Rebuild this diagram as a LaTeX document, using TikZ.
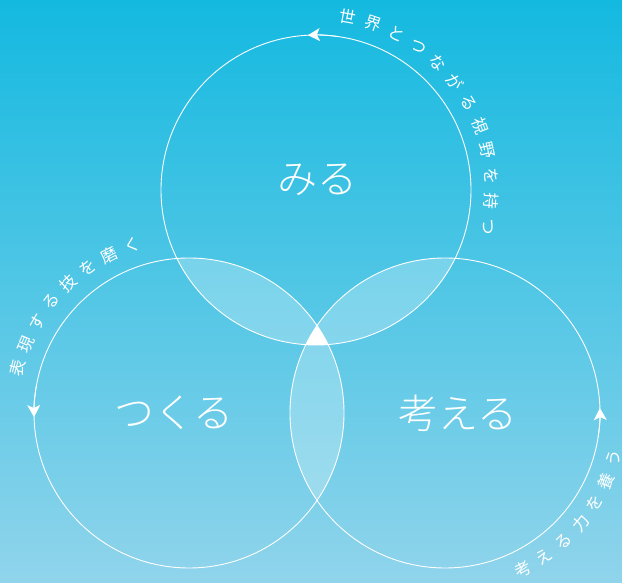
\documentclass[tikz,border=0pt]{standalone}
\usepackage{fontspec}
\IfFontExistsTF{Noto Sans CJK JP Light}
  {\newfontfamily\jp{Noto Sans CJK JP Light}}
  {\newfontfamily\jp{Noto Sans CJK JP}}
\newfontfamily\jpr{Noto Sans CJK JP}
\usetikzlibrary{arrows.meta,calc}
\definecolor{bgtop}{HTML}{14B9E0}
\definecolor{bgbot}{HTML}{90D4EB}
\begin{document}
\begin{tikzpicture}[x=1pt,y=1pt,
  ring/.style={circle, draw=white, line width=0.9pt, minimum size=310pt, inner sep=0pt},
  lens/.style={fill=white, fill opacity=0.25},
  arctip/.style={white, line width=0.9pt, -{Stealth[length=12pt,width=13pt,inset=3pt]}},
  arcchar/.style={text=white, font=\jpr\fontsize{16.5}{16.5}\selectfont, inner sep=0pt},
  mainlabel/.style={text=white, font=\jp\fontsize{40}{40}\selectfont, inner sep=0pt}]
\shade[top color=bgtop, bottom color=bgbot] (0,0) rectangle (622,583);
\useasboundingbox (0,0) rectangle (622,583);
\def\R{155}
\coordinate (cT) at (316,393);
\coordinate (cL) at (189,170);
\coordinate (cR) at (445,170);
% pairwise overlaps
\begin{scope}\clip (cT) circle (\R); \fill[lens] (cL) circle (\R);\end{scope}
\begin{scope}\clip (cT) circle (\R); \fill[lens] (cR) circle (\R);\end{scope}
\begin{scope}\clip (cL) circle (\R); \fill[lens] (cR) circle (\R);\end{scope}
% triple overlap
\begin{scope}\clip (cT) circle (\R); \clip (cL) circle (\R); \fill[white] (cR) circle (\R);\end{scope}
% rings
\node[ring] (mi) at (cT) {};
\node[ring] (tsu) at (cL) {};
\node[ring] (kan) at (cR) {};
% arrow heads on the rings
\draw[arctip] (cT) ++(82:\R) arc[start angle=82, end angle=93, radius=\R];
\draw[arctip] (cL) ++(170:\R) arc[start angle=170, end angle=181.5, radius=\R];
\draw[arctip] (cR) ++(-9:\R) arc[start angle=-9, end angle=1.8, radius=\R];
% main labels
\node[mainlabel] (lmi) at (317,403) {みる};
\node[mainlabel] (ltsu) at (174,170) {つくる};
\node[mainlabel] (lkan) at (458,170) {考える};
% arc texts
\foreach \ch [count=\i from 0] in {世,界,と,つ,な,が,る,視,野,を,持,つ} {
  \pgfmathsetmacro\a{79.5-8.32*\i}
  \node[arcchar, rotate=\a-90] (t\i) at ($(cT)+(\a:176)$) {\ch};
}
\foreach \ch [count=\i from 0] in {表,現,す,る,技,を,磨,く} {
  \pgfmathsetmacro\a{165.2-8.07*\i}
  \node[arcchar, rotate=\a-90] (l\i) at ($(cL)+(\a:177)$) {\ch};
}
\foreach \ch [count=\i from 0] in {考,え,る,力,を,養,う} {
  \pgfmathsetmacro\a{-63.6+8.13*\i}
  \node[arcchar, rotate=\a+90] (r\i) at ($(cR)+(\a:175)$) {\ch};
}
\end{tikzpicture}
\end{document}
